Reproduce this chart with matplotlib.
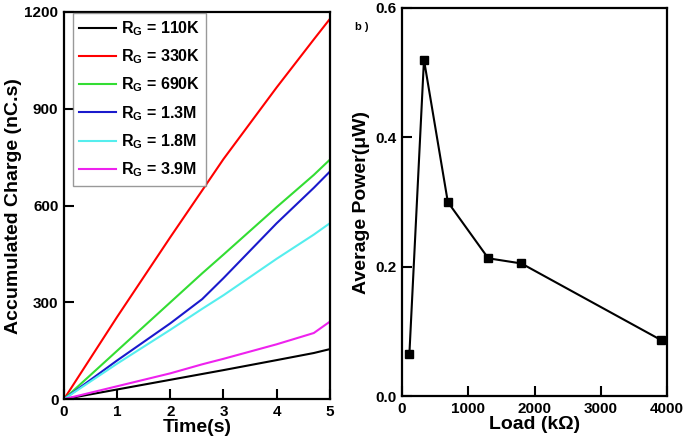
import numpy as np
import matplotlib
matplotlib.use('Agg')
from matplotlib import pyplot as plt

plt.rcParams['font.family'] = ['Liberation Sans', 'DejaVu Sans']
plt.rcParams['font.weight'] = 'bold'
plt.rcParams['mathtext.fontset'] = 'custom'
plt.rcParams['mathtext.rm'] = 'Liberation Sans:bold'
plt.rcParams['mathtext.bf'] = 'Liberation Sans:bold'
plt.rcParams['mathtext.it'] = 'Liberation Sans:bold'

# (a) accumulated charge vs time
time_s = [0, 1, 2, 2.6, 3, 4, 4.7, 5]
q_110k = [0, 30, 60, 78, 90, 121, 143, 155]
q_330k = [0, 255, 502, 647, 744, 966, 1115, 1178]
q_690k = [0, 150, 300, 390, 448, 595, 695, 742]
q_1m3 = [0, 120, 235, 310, 375, 545, 655, 705]
q_1m8 = [0, 110, 215, 280, 322, 435, 510, 545]
q_3m9 = [0, 40, 80, 108, 125, 170, 205, 240]

series = [
    (q_110k, 'black', '110K'),
    (q_330k, 'red', '330K'),
    (q_690k, '#33dd33', '690K'),
    (q_1m3, '#1a1acc', '1.3M'),
    (q_1m8, '#55eeee', '1.8M'),
    (q_3m9, '#ee22ee', '3.9M'),
]

# (b) average power vs load
load_kohm = [110, 330, 690, 1300, 1800, 3900]
power_uw = [0.065, 0.52, 0.30, 0.213, 0.205, 0.087]

fig = plt.figure(figsize=(6.85, 4.44), dpi=100)

ax1 = fig.add_axes([0.0934, 0.101, 0.388, 0.872])
for q, c, lab in series:
    ax1.plot(time_s, q, color=c, lw=1.5, label=r'R$_{\mathregular{G}}$ = ' + lab)
ax1.set_xlim(0, 5)
ax1.set_ylim(0, 1200)
ax1.set_xticks([0, 1, 2, 3, 4, 5])
ax1.set_yticks([0, 300, 600, 900, 1200])
ax1.set_xlabel('Time(s)', fontsize=14, fontweight='bold', labelpad=0)
ax1.set_ylabel('Accumulated Charge (nC.s)', fontsize=14, fontweight='bold', labelpad=2)
leg = ax1.legend(loc='upper left', bbox_to_anchor=(0.033, 0.998), fontsize=11.5,
                 frameon=True, fancybox=False, handlelength=2.3, handletextpad=0.3,
                 borderaxespad=0.0, labelspacing=0.6, borderpad=0.4)
leg.get_frame().set_edgecolor('gray')
leg.get_frame().set_linewidth(1.0)

ax2 = fig.add_axes([0.587, 0.108, 0.387, 0.874])
ax2.plot(load_kohm, power_uw, color='black', lw=1.5, marker='s', ms=6)
ax2.set_xlim(0, 4000)
ax2.set_ylim(0, 0.6)
ax2.set_xticks([0, 1000, 2000, 3000, 4000])
ax2.set_yticks([0.0, 0.2, 0.4, 0.6])
ax2.set_xlabel('Load (k\u03a9)', fontsize=14, fontweight='bold', labelpad=0)
ax2.set_ylabel('Average Power(\u03bcW)', fontsize=14, fontweight='bold', labelpad=4)
fig.text(0.518, 0.932, 'b )', fontsize=8, fontweight='bold')

for ax in (ax1, ax2):
    ax.tick_params(direction='in', length=7, width=1.5, labelsize=11, pad=4)
    for lbl in ax.get_xticklabels() + ax.get_yticklabels():
        lbl.set_fontweight('bold')
    for s in ax.spines.values():
        s.set_linewidth(1.6)

fig.savefig('out.png', dpi=100)
